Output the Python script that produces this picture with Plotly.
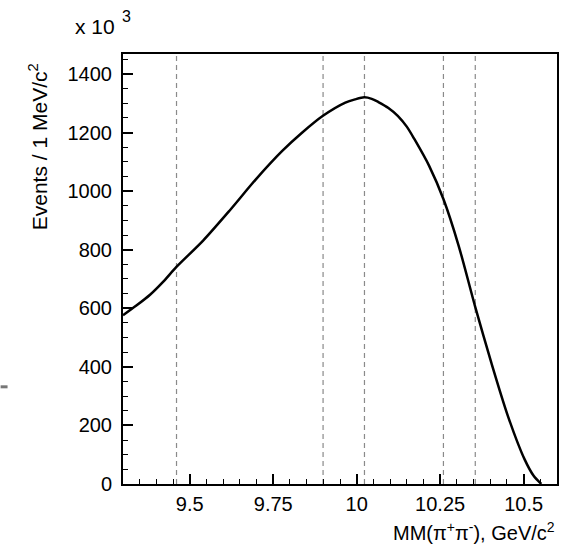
import plotly.graph_objects as go

# Curve values (x in GeV/c^2, y in units of 10^3 events / 1 MeV/c^2)
mass = [9.300, 9.340, 9.381, 9.420, 9.460, 9.540, 9.619, 9.698, 9.777, 9.837,
        9.899, 9.966, 9.995, 10.023, 10.045, 10.065, 10.095, 10.123, 10.150,
        10.173, 10.217, 10.260, 10.305, 10.355, 10.403, 10.453, 10.503, 10.530,
        10.553]
events = [576, 609, 646, 690, 741, 831, 933, 1040, 1137, 1200,
          1257, 1302, 1313, 1320, 1315, 1304, 1284, 1257, 1220,
          1177, 1086, 972, 815, 605, 415, 232, 84, 28,
          0]

# Vertical dashed reference lines (resonance masses)
ref_lines = [9.4603, 9.8993, 10.0233, 10.2598, 10.3552]

x_ticks = [9.5, 9.75, 10.0, 10.25, 10.5]
x_tick_text = ["9.5", "9.75", "10", "10.25", "10.5"]
y_ticks = [0, 200, 400, 600, 800, 1000, 1200, 1400]

FONT = "Liberation Sans, Arial, Helvetica, sans-serif"

fig = go.Figure()
fig.add_trace(go.Scatter(
    x=mass, y=events, mode="lines",
    line=dict(color="black", width=2.5, shape="spline", smoothing=0.8),
    hoverinfo="skip", showlegend=False,
))

for xv in ref_lines:
    fig.add_shape(type="line", xref="x", yref="paper", x0=xv, x1=xv, y0=0, y1=1,
                  line=dict(color="#8a8a8a", width=1.2, dash="5px,4px"), layer="below")

# small grey mark at the left edge of the picture
fig.add_shape(type="line", xref="paper", yref="paper", x0=-0.282, x1=-0.266,
              y0=0.226, y1=0.226, line=dict(color="#777777", width=3))

fig.update_layout(
    width=563, height=547,
    margin=dict(l=123, r=4, t=54, b=63),
    paper_bgcolor="white", plot_bgcolor="white",
    font=dict(family=FONT, size=20, color="black"),
    xaxis=dict(
        range=[9.3, 10.6], tickvals=x_ticks, ticktext=x_tick_text,
        ticks="inside", ticklen=10, tickwidth=1.5, tickcolor="black",
        minor=dict(dtick=0.05, tick0=9.5, ticks="inside", ticklen=5, tickwidth=1.2, tickcolor="black"),
        showline=True, linecolor="black", linewidth=2, mirror=True,
        showgrid=False, zeroline=False, ticklabelstandoff=1,
        tickfont=dict(family=FONT, size=20),
    ),
    yaxis=dict(
        range=[0, 1468], tickvals=y_ticks,
        ticks="inside", ticklen=10, tickwidth=1.5, tickcolor="black",
        minor=dict(dtick=50, tick0=0, ticks="inside", ticklen=5, tickwidth=1.2, tickcolor="black"),
        showline=True, linecolor="black", linewidth=2, mirror=True,
        showgrid=False, zeroline=False, ticklabelstandoff=5,
        tickfont=dict(family=FONT, size=20),
    ),
    annotations=[
        dict(text="x 10", xref="paper", yref="paper",
             x=-0.1147, y=1.0628, xanchor="left", yanchor="middle",
             showarrow=False, font=dict(family=FONT, size=21)),
        dict(text="3", xref="paper", yref="paper",
             x=-0.006, y=1.088, xanchor="left", yanchor="middle",
             showarrow=False, font=dict(family=FONT, size=16)),
        dict(text="Events / 1 MeV/c<sup>2</sup>", xref="paper", yref="paper",
             x=-0.195, y=0.784, xanchor="center", yanchor="middle", textangle=-90,
             showarrow=False, font=dict(family=FONT, size=21)),
        dict(text="MM(π<sup>+</sup>π<sup>-</sup>), GeV/c<sup>2</sup>", xref="paper", yref="paper",
             x=1.0, y=0, xanchor="right", yanchor="top", yshift=-33,
             showarrow=False, font=dict(family=FONT, size=20)),
    ],
)

fig.write_html("out.html")
